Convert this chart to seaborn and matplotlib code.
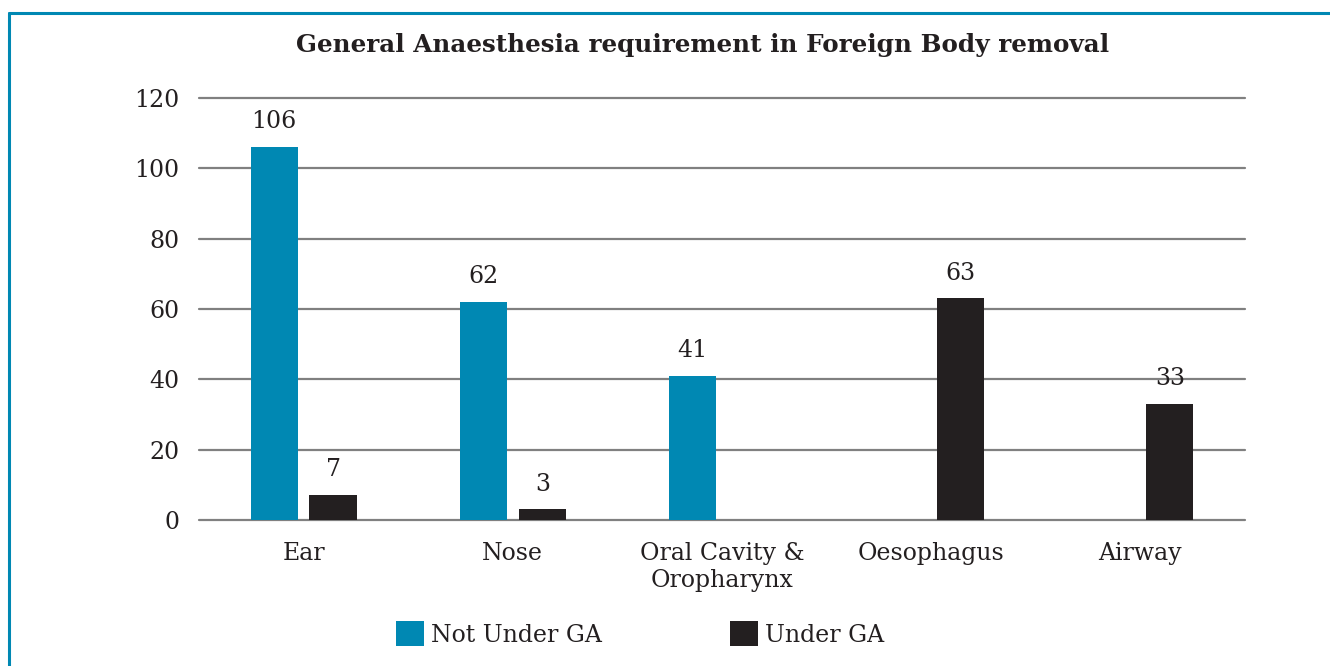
import matplotlib
matplotlib.use("Agg")
import matplotlib.pyplot as plt
from matplotlib.patches import Patch
from matplotlib.lines import Line2D
import seaborn as sns
import pandas as pd

categories = ['Ear', 'Nose', 'Oral Cavity &\nOropharynx', 'Oesophagus', 'Airway']
not_under_ga = [106, 62, 41, None, None]
under_ga = [7, 3, None, 63, 33]
groups = ['Not Under GA', 'Under GA']

rows = []
for cat, a, b in zip(categories, not_under_ga, under_ga):
    if a is not None:
        rows.append({'site': cat, 'group': groups[0], 'count': a})
    if b is not None:
        rows.append({'site': cat, 'group': groups[1], 'count': b})
df = pd.DataFrame(rows)

colors = {'Not Under GA': '#0088b3', 'Under GA': '#231f20'}

sns.set_theme(style="white")
plt.rcParams['font.family'] = ['DejaVu Serif']
text_color = '#231f20'

fig = plt.figure(figsize=(13.3, 6.66), dpi=100)
ax = fig.add_axes([199 / 1330, 1 - 520 / 666, (1245 - 199) / 1330, (520 - 98) / 666])

sns.barplot(data=df, x='site', y='count', hue='group', order=categories,
            hue_order=groups, palette=colors, saturation=1, width=0.564, gap=0.2,
            linewidth=0, errorbar=None, legend=False, ax=ax, zorder=3)

for c in ax.containers:
    ax.bar_label(c, padding=10, fontsize=17, color=text_color)

ax.set_ylim(0, 120)
ax.set_yticks(range(0, 121, 20))
ax.set_xlim(-0.5, 4.5)
ax.grid(axis='y', color='#808080', linewidth=1.6, zorder=0)
for gl in ax.get_ygridlines():
    gl.set_clip_on(False)
ax.set_xlabel('')
ax.set_ylabel('')
sns.despine(ax=ax, left=True, bottom=True)
ax.tick_params(axis='both', length=0, labelsize=17, colors=text_color)
ax.tick_params(axis='y', pad=14)
ax.tick_params(axis='x', pad=16)

fig.text(703 / 1330, 1 - 45 / 666, 'General Anaesthesia requirement in Foreign Body removal',
         ha='center', va='center', fontsize=17.75, fontweight='bold', color=text_color)

handles = [Patch(facecolor=colors[g], edgecolor='none') for g in groups]
fig.legend(handles, groups, loc='center', bbox_to_anchor=(640 / 1330, 1 - 634 / 666),
           ncol=2, frameon=False, fontsize=17, handlelength=1.2, handleheight=1.25,
           handletextpad=0.3, columnspacing=5.4, labelcolor=text_color)

# blue frame (top and left edges)
border = '#0088b3'
fig.add_artist(Line2D([9 / 1330, 1], [1 - 13 / 666] * 2, color=border, linewidth=2.2))
fig.add_artist(Line2D([9 / 1330] * 2, [1 - 13 / 666, 0], color=border, linewidth=2.2))

fig.savefig('out.png', dpi=100)
